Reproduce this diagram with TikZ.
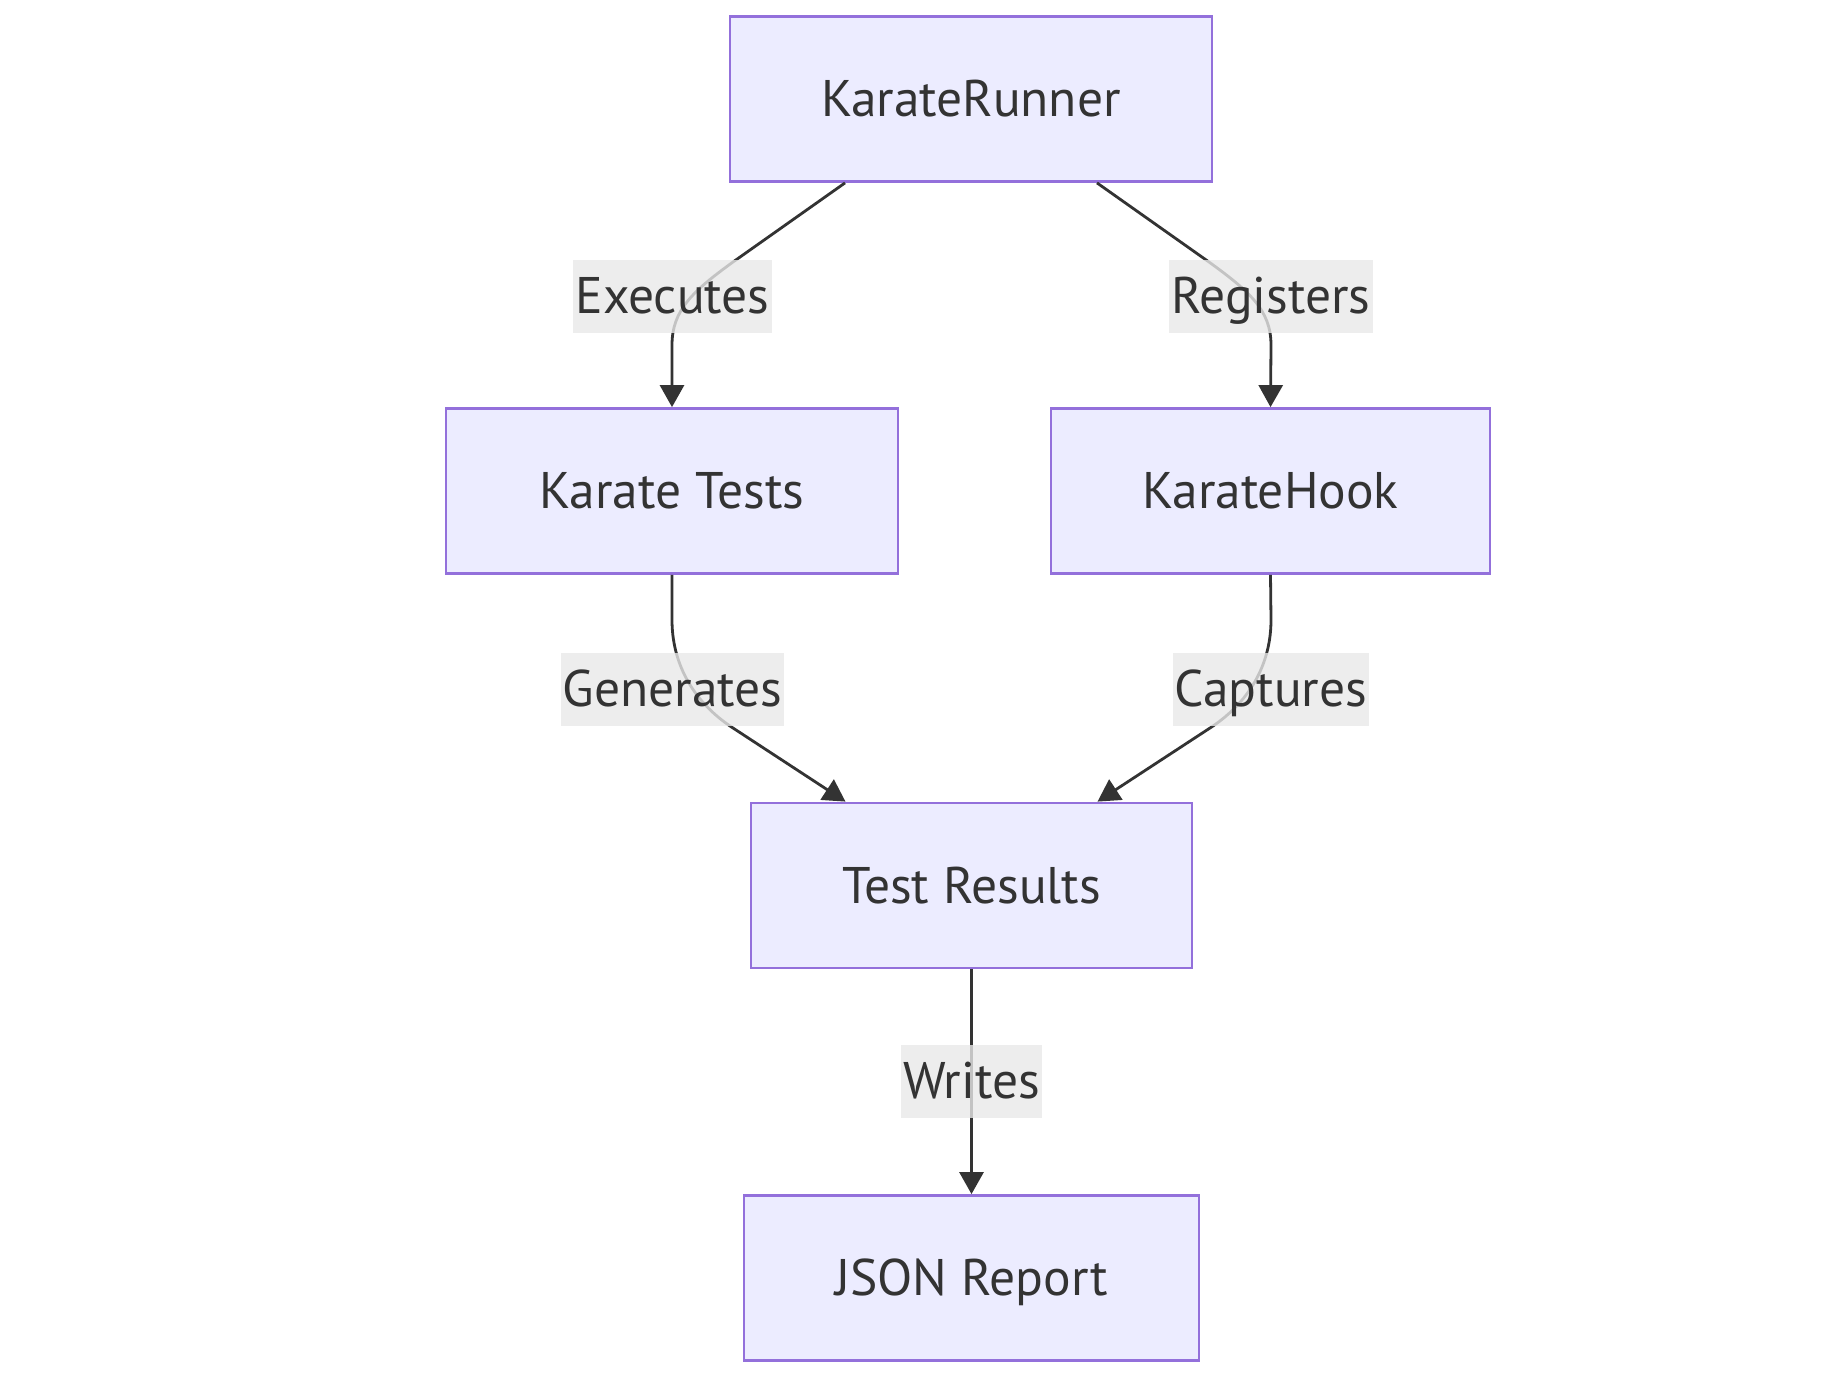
\documentclass[tikz,border=0pt]{standalone}
\usepackage{fontspec}
\setmainfont{PT Sans}
\usetikzlibrary{arrows.meta}
\definecolor{boxfill}{HTML}{ECECFF}
\definecolor{boxline}{HTML}{9370DB}
\definecolor{ink}{HTML}{333333}
\definecolor{labelbg}{HTML}{E8E8E8}
\begin{document}
\begin{tikzpicture}[x=1pt,y=-1pt,
  box/.style={draw=boxline,fill=boxfill,line width=2.8pt,minimum height=165pt,
    text=ink,text height=40pt,text depth=5pt,font=\fontsize{51.5}{60}\selectfont},
  lbl/.style={fill=labelbg,fill opacity=.8,text opacity=1,text=ink,inner xsep=2pt,
    inner ysep=0pt,minimum height=73pt,text height=40pt,text depth=5pt,
    font=\fontsize{51.5}{60}\selectfont},
  flow/.style={draw=ink,line width=2.8pt,-{Triangle[width=24pt,length=22pt]}}]
\useasboundingbox (0,0) rectangle (1840,1385);
\node[box,minimum width=482pt] (runner) at (971,99) {KarateRunner};
\node[box,minimum width=452pt] (tests) at (672,491) {Karate Tests};
\node[box,minimum width=439pt] (hook) at (1270.5,491) {KarateHook};
\node[box,minimum width=441pt] (results) at (971.5,885.5) {Test Results};
\node[box,minimum width=455pt] (report) at (971.5,1278) {JSON Report};
\draw[flow] ([xshift=-126pt]runner.south) -- (733,262) .. controls (693,291) and (672,310) .. (672,345) -- (tests.north);
\draw[flow] ([xshift=126pt]runner.south) -- (1209,262) .. controls (1249,291) and (1271,310) .. (1271,345) -- (hook.north);
\draw[flow] (tests.south) -- (672,620) .. controls (672,660) and (690,700) .. (733,728) -- ([xshift=-126pt]results.north);
\draw[flow] (hook.south) -- (1271,620) .. controls (1271,660) and (1253,700) .. (1210,728) -- ([xshift=126pt]results.north);
\draw[flow] (results.south) -- (report.north);
\foreach \n/\x/\y/\t in {exec/672.5/296/Executes, reg/1271/296/Registers,
    gen/672.5/689/Generates, capt/1271/689/Captures, wri/971.5/1081/Writes}
  \node[lbl] (\n) at (\x,\y) {\t};
\end{tikzpicture}
\end{document}
